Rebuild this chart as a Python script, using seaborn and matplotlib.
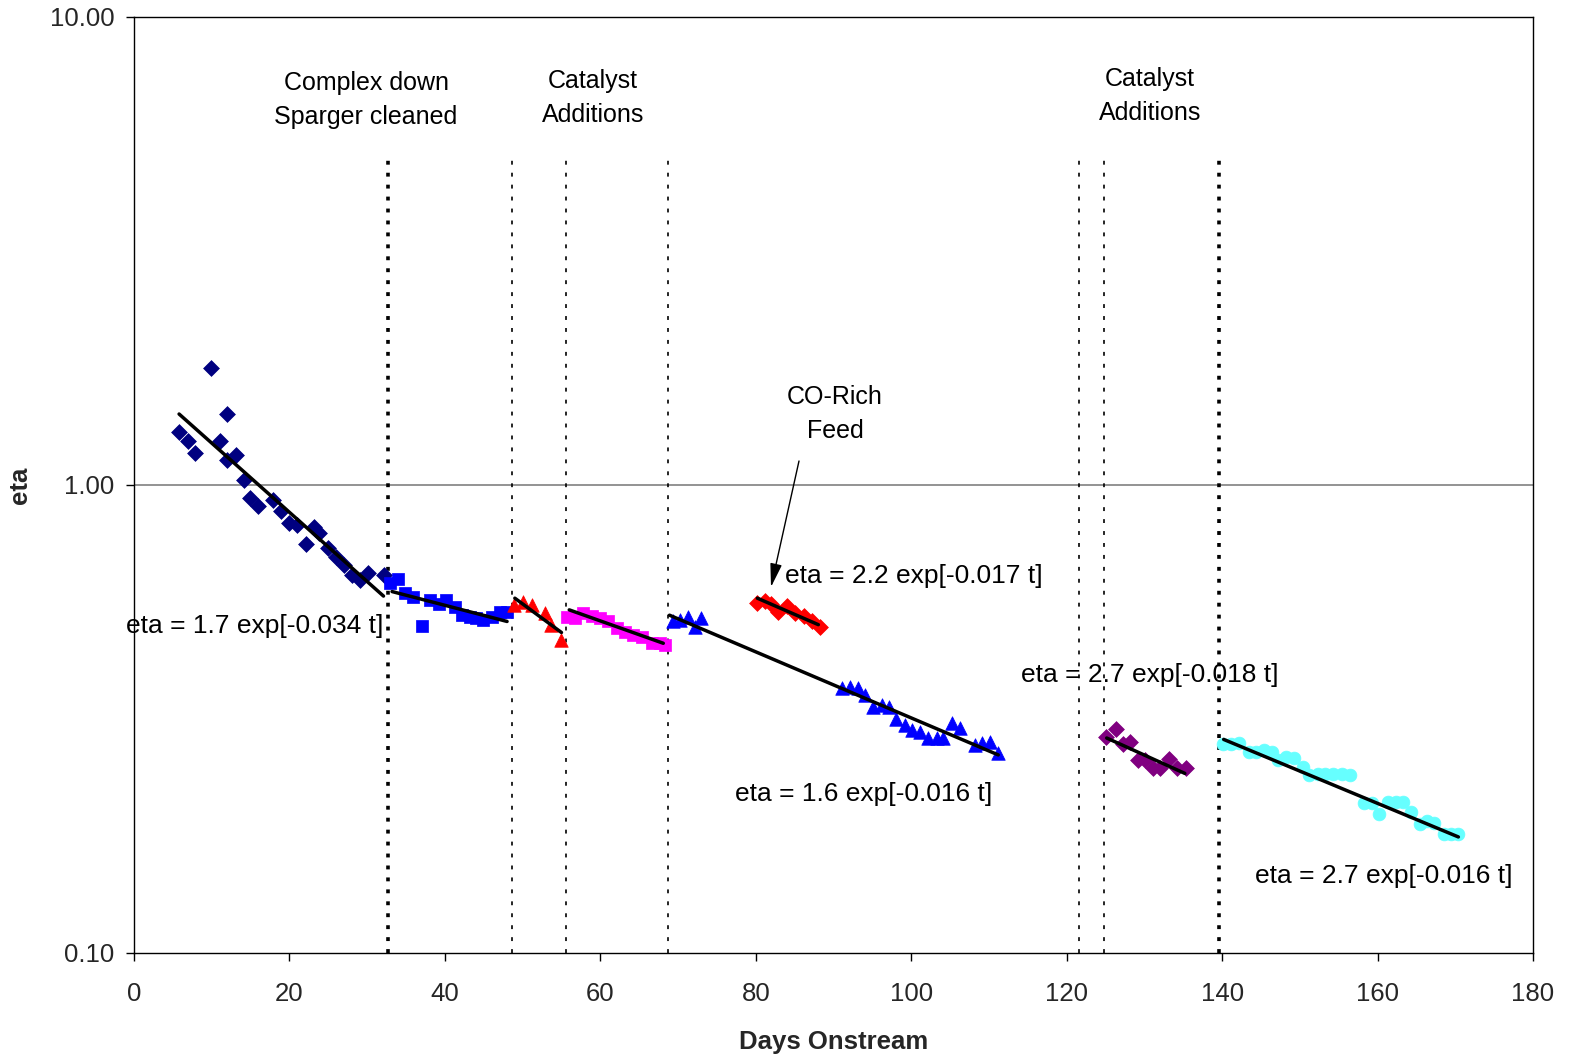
import matplotlib
matplotlib.use("Agg")
import matplotlib.pyplot as plt
import seaborn as sns
import pandas as pd

# ---------------- data ----------------
navy_days = [5.8, 6.9, 7.9, 9.95, 11.1, 12.0, 12.0, 13.1, 14.15, 14.9, 15.95, 17.9, 18.9, 19.9, 21.0,
             22.1, 23.2, 23.8, 24.9, 25.95, 27.0, 28.1, 29.1, 30.15, 32.2]
navy_eta = [1.30, 1.24, 1.17, 1.78, 1.24, 1.42, 1.13, 1.16, 1.025, 0.94, 0.902, 0.929, 0.881, 0.828, 0.822,
            0.748, 0.815, 0.791, 0.732, 0.703, 0.675, 0.642, 0.627, 0.647, 0.642]

bsq_days = [32.9, 34.0, 34.9, 35.9, 37.0, 38.1, 39.2, 40.2, 41.3, 42.2, 43.2, 44.0, 44.9, 46.0, 47.1, 47.95]
bsq_eta = [0.616, 0.629, 0.587, 0.577, 0.500, 0.568, 0.558, 0.568, 0.550, 0.527, 0.523, 0.520, 0.515,
           0.523, 0.536, 0.536]

rtri_days = [48.9, 50.1, 51.25, 52.9, 53.6, 55.0]
rtri_eta = [0.554, 0.561, 0.554, 0.532, 0.503, 0.467]

mag_days = [55.7, 56.7, 57.8, 58.9, 60.0, 61.0, 62.1, 63.2, 64.2, 65.3, 66.6, 67.7, 68.3]
mag_eta = [0.523, 0.519, 0.532, 0.525, 0.519, 0.511, 0.496, 0.484, 0.478, 0.473, 0.459, 0.459, 0.455]

btri_days = [69.4, 70.3, 71.3, 72.2, 73.0, 91.05, 92.1, 93.2, 94.05, 95.1, 96.2, 97.2, 98.1, 99.2, 100.1,
             101.1, 102.2, 103.3, 104.1, 105.2, 106.3, 108.2, 109.1, 110.1, 111.2]
btri_eta = [0.511, 0.515, 0.523, 0.498, 0.519, 0.368, 0.371, 0.368, 0.356, 0.336, 0.339, 0.336, 0.317, 0.307,
            0.300, 0.297, 0.288, 0.288, 0.288, 0.310, 0.302, 0.278, 0.281, 0.282, 0.267]

rdia_days = [80.1, 81.2, 82.0, 82.9, 84.05, 85.05, 86.2, 87.2, 88.3]
rdia_eta = [0.559, 0.566, 0.557, 0.536, 0.551, 0.532, 0.525, 0.511, 0.498]

purp_days = [125.1, 126.35, 127.3, 128.2, 129.2, 130.1, 131.1, 132.0, 133.2, 134.2, 135.4]
purp_eta = [0.289, 0.301, 0.280, 0.282, 0.259, 0.259, 0.248, 0.248, 0.260, 0.249, 0.249]

cyan_days = [140.1, 141.2, 142.2, 143.4, 144.4, 145.4, 146.4, 147.2, 148.2, 149.2, 150.4, 151.2, 152.3, 153.2,
             154.3, 155.4, 156.5, 158.2, 159.3, 160.2, 161.3, 162.4, 163.3, 164.3, 165.5, 166.3, 167.2,
             168.5, 169.4, 170.4]
cyan_eta = [0.280, 0.280, 0.281, 0.269, 0.269, 0.271, 0.269, 0.259, 0.262, 0.261, 0.250, 0.240, 0.241, 0.241,
            0.241, 0.241, 0.240, 0.209, 0.209, 0.198, 0.210, 0.210, 0.210, 0.200, 0.189, 0.191, 0.190,
            0.180, 0.180, 0.180]

# fitted trend lines (start/end)
fit_names = ["navy", "bsq", "rtri", "mag", "btri", "rdia", "purp", "cyan"]
fit_t0 = [5.8, 33.2, 49.0, 56.0, 68.9, 80.2, 125.15, 140.2]
fit_e0 = [1.418, 0.592, 0.573, 0.541, 0.527, 0.573, 0.288, 0.286]
fit_t1 = [32.1, 48.0, 55.0, 68.1, 111.2, 88.05, 135.2, 170.4]
fit_e1 = [0.579, 0.511, 0.484, 0.459, 0.265, 0.503, 0.242, 0.177]

event_days = [32.7, 48.6, 55.6, 68.7, 121.6, 124.8, 139.6]
event_thick = [True, False, False, False, False, False, True]

x_ticks = [0, 20, 40, 60, 80, 100, 120, 140, 160, 180]
y_ticks = [0.1, 1.0, 10.0]
y_tick_labels = ["0.10", "1.00", "10.00"]

# ---------------- style ----------------
sns.set_theme(style="white")
plt.rcParams["font.family"] = ["Liberation Sans", "DejaVu Sans"]
plt.rcParams["lines.scale_dashes"] = False

fig = plt.figure(figsize=(15.7, 10.55), dpi=100)
ax = fig.add_axes([134 / 1570, 1 - 953 / 1055, (1533 - 134) / 1570, (953 - 17) / 1055])
ax.set_yscale("log")
ax.set_xlim(0, 180)
ax.set_ylim(0.1, 10)

# horizontal gridline at 1.00
ax.axhline(1.0, color="#808080", lw=1.2, zorder=1)

# event lines
for d, thick in zip(event_days, event_thick):
    if thick:
        ax.plot([d, d], [0.1, 5.0], color="black", lw=2.6, linestyle=(0, (2.8, 5.8)), zorder=2)
    else:
        ax.plot([d, d], [0.1, 5.0], color="black", lw=1.2, linestyle=(0, (2.8, 5.8)), zorder=2)

series = [
    (navy_days, navy_eta, "#000080", "D", 65),
    (bsq_days, bsq_eta, "#0000FF", "s", 80),
    (rtri_days, rtri_eta, "#FF0000", "^", 95),
    (mag_days, mag_eta, "#FF00FF", "s", 80),
    (btri_days, btri_eta, "#0000FF", "^", 95),
    (rdia_days, rdia_eta, "#FF0000", "D", 65),
    (purp_days, purp_eta, "#800080", "D", 65),
    (cyan_days, cyan_eta, "#66FFFF", "o", 85),
]
for d, e, c, m, s in series:
    df = pd.DataFrame({"day": d, "eta": e})
    sns.scatterplot(data=df, x="day", y="eta", ax=ax, color=c, marker=m, s=s,
                    edgecolor=c, linewidth=0.5, zorder=3, legend=False)

for t0, e0, t1, e1 in zip(fit_t0, fit_e0, fit_t1, fit_e1):
    fdf = pd.DataFrame({"day": [t0, t1], "eta": [e0, e1]})
    sns.lineplot(data=fdf, x="day", y="eta", ax=ax, color="black", lw=2.5, zorder=4,
                 estimator=None, sort=False)

# axes cosmetics
ax.set_xticks(x_ticks)
ax.set_yticks(y_ticks)
ax.set_yticklabels(y_tick_labels)
ax.minorticks_off()
ax.tick_params(axis="both", direction="out", length=6, width=1, color="black",
               labelsize=18.5, bottom=True, left=True)
ax.tick_params(axis="x", pad=15)
ax.tick_params(axis="y", pad=8)
for sp in ax.spines.values():
    sp.set_color("black")
    sp.set_linewidth(1.0)
ax.set_xlabel("Days Onstream", fontsize=18.5, fontweight="bold", labelpad=17)
ax.set_ylabel("eta", fontsize=18.5, fontweight="bold", labelpad=13)


def fx(px):
    return (px - 134) / (1533 - 134)


def fy(py):
    return (953 - py) / (953 - 17)


txt_kw = dict(transform=ax.transAxes, fontsize=19, color="black", zorder=5)
ax.text(fx(126), fy(626), "eta = 1.7 exp[-0.034 t]", ha="left", va="center", **txt_kw)
ax.text(fx(785), fy(576), "eta = 2.2 exp[-0.017 t]", ha="left", va="center", **txt_kw)
ax.text(fx(1021), fy(675), "eta = 2.7 exp[-0.018 t]", ha="left", va="center", **txt_kw)
ax.text(fx(735), fy(794), "eta = 1.6 exp[-0.016 t]", ha="left", va="center", **txt_kw)
ax.text(fx(1255), fy(876), "eta = 2.7 exp[-0.016 t]", ha="left", va="center", **txt_kw)

ann_kw = dict(transform=ax.transAxes, fontsize=18, color="black", ha="center", va="center",
              linespacing=1.5, zorder=5)
ax.text(fx(366), fy(100), "Complex down\nSparger cleaned", **ann_kw)
ax.text(fx(593), fy(98), "Catalyst\nAdditions", **ann_kw)
ax.text(fx(1150), fy(96), "Catalyst\nAdditions", **ann_kw)
ax.text(fx(835), fy(414), "CO-Rich\nFeed", **ann_kw)

ax.annotate("", xy=(fx(771), fy(587)), xycoords="axes fraction",
            xytext=(fx(799), fy(461)), textcoords="axes fraction",
            arrowprops=dict(arrowstyle="-|>,head_length=1.2,head_width=0.3", color="black", lw=1.0,
                            shrinkA=0, shrinkB=0))

fig.savefig("out.png", dpi=100)
